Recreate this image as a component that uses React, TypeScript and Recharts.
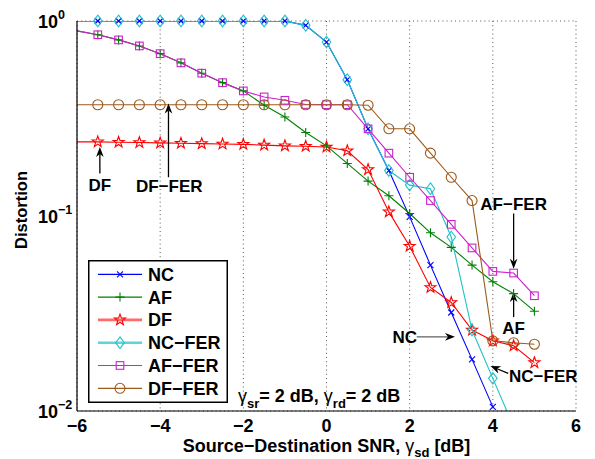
import React from "react";
import {
  LineChart,
  Line,
  XAxis,
  YAxis,
  CartesianGrid,
  ReferenceLine,
  ReferenceDot,
  Legend,
  Label,
} from "recharts";

// source-destination SNR (dB)
const snr = [-6, -5.5, -5, -4.5, -4, -3.5, -3, -2.5, -2, -1.5, -1, -0.5, 0, 0.5, 1, 1.5, 2, 2.5, 3, 3.5, 4, 4.5, 5];

// distortion per scheme
const nc = [1, 1, 1, 1, 1, 1, 1, 1, 1, 1, 1, 0.95, 0.78, 0.5, 0.28, 0.171, 0.099, 0.056, 0.032, 0.0184, 0.0105, null, null];
const af = [0.89, 0.85, 0.8, 0.745, 0.68, 0.61, 0.54, 0.483, 0.438, 0.37, 0.322, 0.268, 0.229, 0.186, 0.151, 0.127, 0.103, 0.082, 0.069, 0.056, 0.046, 0.04, 0.0325];
const df = [0.24, 0.24, 0.239, 0.238, 0.237, 0.236, 0.235, 0.234, 0.233, 0.231, 0.229, 0.228, 0.226, 0.216, 0.173, 0.105, 0.07, 0.043, 0.036, 0.026, 0.0229, 0.0216, 0.0177];
const ncFer = [1, 1, 1, 1, 1, 1, 1, 1, 1, 1, 1, 0.95, 0.78, 0.5, 0.28, 0.171, 0.144, 0.138, 0.078, 0.026, 0.0147, 0.0083, null];
const afFer = [0.89, 0.85, 0.8, 0.745, 0.68, 0.61, 0.54, 0.483, 0.438, 0.408, 0.392, 0.373, 0.372, 0.372, 0.28, 0.21, 0.158, 0.12, 0.0906, 0.0686, 0.052, 0.051, 0.039];
const dfFer = [0.372, 0.372, 0.372, 0.372, 0.372, 0.372, 0.372, 0.372, 0.372, 0.372, 0.372, 0.372, 0.372, 0.372, 0.37, 0.28, 0.28, 0.21, 0.158, 0.12, 0.0229, 0.0224, 0.022];

const xTicks = [-6, -4, -2, 0, 2, 4, 6];
const yMajor = [0.01, 0.1, 1];
const yMinor = [0.02, 0.03, 0.04, 0.05, 0.06, 0.07, 0.08, 0.09, 0.2, 0.3, 0.4, 0.5, 0.6, 0.7, 0.8, 0.9];
const yAll = [...yMajor, ...yMinor].sort((a, b) => a - b);

// arrow annotations [x, y] in data units
const arrows = [
  { from: [-5.45, 0.165], to: [-5.45, 0.226], color: "#000" },
  { from: [-3.8, 0.158], to: [-3.8, 0.377], color: "#000" },
  { from: [4.5, 0.103], to: [4.5, 0.0537], color: "#000" },
  { from: [4.5, 0.0303], to: [4.5, 0.0408], color: "#000" },
  { from: [2.17, 0.024], to: [3.09, 0.024], color: "#666" },
  { from: [4.37, 0.0156], to: [3.945, 0.017], color: "#000" },
];
const notes = [
  { text: "DF", x: -5.45, y: 0.134, anchor: "middle" },
  { text: "DF\u2212FER", x: -3.78, y: 0.1328, anchor: "middle" },
  { text: "AF\u2212FER", x: 4.5, y: 0.107, anchor: "middle" },
  { text: "AF", x: 4.5, y: 0.0249, anchor: "middle" },
  { text: "NC", x: 2.18, y: 0.0222, anchor: "end" },
  { text: "NC\u2212FER", x: 4.39, y: 0.0141, anchor: "start" },
];

const series = [
  { key: "nc", name: "NC", color: "#0000ff", marker: "x", values: nc },
  { key: "af", name: "AF", color: "#008000", marker: "plus", values: af },
  { key: "df", name: "DF", color: "#ff0000", marker: "star", values: df },
  { key: "ncFer", name: "NC\u2212FER", color: "#1cc3c8", marker: "diamond", values: ncFer },
  { key: "afFer", name: "AF\u2212FER", color: "#cc22cc", marker: "square", values: afFer },
  { key: "dfFer", name: "DF\u2212FER", color: "#9c5a1c", marker: "circle", values: dfFer },
];

const rows = snr.map((x, i) => {
  const r: any = { x };
  series.forEach((s) => (r[s.key] = s.values[i]));
  return r;
});

const FONT = "'Liberation Sans', Arial, Helvetica, sans-serif";

function Marker({ kind, cx, cy, color }: any) {
  const sw = 1.1;
  if (kind === "x")
    return <path d={`M${cx - 3},${cy - 3}L${cx + 3},${cy + 3}M${cx - 3},${cy + 3}L${cx + 3},${cy - 3}`} stroke={color} strokeWidth={sw} fill="none" />;
  if (kind === "plus")
    return <path d={`M${cx - 4.5},${cy}L${cx + 4.5},${cy}M${cx},${cy - 4.5}L${cx},${cy + 4.5}`} stroke={color} strokeWidth={sw} fill="none" />;
  if (kind === "star") {
    const pts: string[] = [];
    for (let k = 0; k < 10; k++) {
      const r = k % 2 === 0 ? 5.8 : 2.3;
      const a = -Math.PI / 2 + (k * Math.PI) / 5;
      pts.push(`${cx + r * Math.cos(a)},${cy + r * Math.sin(a)}`);
    }
    return <polygon points={pts.join(" ")} stroke={color} strokeWidth={sw} fill="none" />;
  }
  if (kind === "diamond")
    return <polygon points={`${cx},${cy - 5.8} ${cx + 4.3},${cy} ${cx},${cy + 5.8} ${cx - 4.3},${cy}`} stroke={color} strokeWidth={sw} fill="none" />;
  if (kind === "square")
    return <rect x={cx - 3.8} y={cy - 3.8} width={7.6} height={7.6} stroke={color} strokeWidth={sw} fill="none" />;
  return <circle cx={cx} cy={cy} r={5} stroke={color} strokeWidth={sw} fill="none" />;
}

const dotFor = (kind: string, color: string) => (p: any) => {
  const { cx, cy, index, value } = p;
  if (index === 0 || value == null || cx == null || cy == null || !isFinite(cx) || !isFinite(cy))
    return <g key={`d${index}`} />;
  return (
    <g key={`d${index}`}>
      <Marker kind={kind} cx={cx} cy={cy} color={color} />
    </g>
  );
};

const arrowShape = (color: string) => (p: any) => {
  const { x1, y1, x2, y2 } = p;
  const ang = Math.atan2(y2 - y1, x2 - x1);
  const L = 10;
  const W = 3.8;
  const bx = x2 - L * Math.cos(ang);
  const by = y2 - L * Math.sin(ang);
  const px = -Math.sin(ang) * W;
  const py = Math.cos(ang) * W;
  const nx = x2 - 0.7 * L * Math.cos(ang);
  const ny = y2 - 0.7 * L * Math.sin(ang);
  return (
    <g>
      <line x1={x1} y1={y1} x2={nx} y2={ny} stroke={color} strokeWidth={1.3} />
      <polygon points={`${x2},${y2} ${bx + px},${by + py} ${nx},${ny} ${bx - px},${by - py}`} fill="#000" />
    </g>
  );
};

const XTick = ({ x, y, payload }: any) => {
  const v = payload.value;
  const label = v < 0 ? `\u2212${Math.abs(v)}` : `${v}`;
  return (
    <text x={x} y={y + 21} textAnchor="middle" fontFamily={FONT} fontWeight="bold" fontSize={18} fill="#000">
      {label}
    </text>
  );
};

const YTick = ({ x, y, payload }: any) => {
  const e = Math.round(Math.log10(payload.value));
  const exp = e < 0 ? `\u2212${Math.abs(e)}` : `${e}`;
  return (
    <text x={x - 39} y={y + 7} textAnchor="start" fontFamily={FONT} fontWeight="bold" fontSize={18} fill="#000">
      10
      <tspan dy={-9} fontSize={12.5}>{exp}</tspan>
    </text>
  );
};

const renderLegend = () => (
  <svg width={140} height={143} style={{ display: "block" }}>
    <rect x={0.75} y={0.75} width={138.5} height={141.5} fill="#fff" stroke="#000" strokeWidth={1.5} />
    {series.map((s, i) => {
      const cy = 14.3 + i * 22.8;
      const thick = s.key === "df" || s.key === "ncFer";
      return (
        <g key={s.key}>
          <line x1={10} x2={54} y1={cy} y2={cy} stroke={thick ? (s.key === "df" ? "#ff6a6a" : "#5fd6d6") : s.color} strokeWidth={thick ? 2.6 : 1.2} />
          <Marker kind={s.marker} cx={32} cy={cy} color={s.color} />
          <text x={60} y={cy + 6.5} fontFamily={FONT} fontWeight="bold" fontSize={18} fill="#000">
            {s.name}
          </text>
        </g>
      );
    })}
  </svg>
);

export default function App() {
  return (
    <div style={{ position: "absolute", left: 0, top: 0, background: "#fff" }}>
      <LineChart width={595} height={459} data={rows} margin={{ top: 21, right: 19, bottom: 0, left: 0 }}>
        <CartesianGrid xAxisId="x" yAxisId="yminor" stroke="#555" strokeDasharray="1 3.2" strokeWidth={1} />

        <XAxis
          xAxisId="x"
          dataKey="x"
          type="number"
          domain={[-6, 6]}
          ticks={xTicks}
          interval={0}
          height={48}
          tickSize={0}
          tickMargin={0}
          tickLine={false}
          axisLine={{ stroke: "#000", strokeWidth: 1.2 }}
          tick={<XTick />}
        >
          <Label
            content={({ viewBox }: any) => (
              <text x={viewBox.x + viewBox.width / 2} y={viewBox.y + 41} textAnchor="middle" fontFamily={FONT} fontWeight="bold" fontSize={18} fill="#000">
                Source{"\u2212"}Destination SNR, <tspan fontWeight="normal">γ</tspan>
                <tspan dy={5} fontSize={13}>sd</tspan>
                <tspan dy={-5}> [dB]</tspan>
              </text>
            )}
          />
        </XAxis>
        <XAxis xAxisId="xin" dataKey="x" type="number" domain={[-6, 6]} ticks={xTicks} interval={0} orientation="bottom" mirror height={0} tick={false} tickSize={5} axisLine={false} tickLine={{ stroke: "#000" }} />
        <XAxis xAxisId="xtop" dataKey="x" type="number" domain={[-6, 6]} ticks={xTicks} interval={0} orientation="top" mirror height={0} tick={false} tickSize={5} axisLine={{ stroke: "#000", strokeWidth: 1.2 }} tickLine={{ stroke: "#000" }} />

        <YAxis
          yAxisId="y"
          scale="log"
          type="number"
          domain={[0.01, 1]}
          allowDataOverflow
          ticks={yMajor}
          interval={0}
          width={77}
          tickSize={0}
          tickMargin={0}
          tickLine={false}
          axisLine={{ stroke: "#000", strokeWidth: 1.2 }}
          tick={<YTick />}
        >
          <Label
            content={({ viewBox }: any) => {
              const cx = viewBox.x + 27;
              const cy = viewBox.y + viewBox.height / 2 - 6;
              return (
                <text x={cx} y={cy} transform={`rotate(-90 ${cx} ${cy})`} textAnchor="middle" fontFamily={FONT} fontWeight="bold" fontSize={16.5} fill="#000">
                  Distortion
                </text>
              );
            }}
          />
        </YAxis>
        <YAxis yAxisId="yd" scale="log" type="number" domain={[0.01, 1]} hide width={0} />
        <YAxis yAxisId="yin" scale="log" type="number" domain={[0.01, 1]} allowDataOverflow ticks={yMajor} interval={0} mirror width={0} tick={false} tickSize={5} axisLine={false} tickLine={{ stroke: "#000" }} />
        <YAxis yAxisId="yminor" scale="log" type="number" domain={[0.01, 1]} allowDataOverflow ticks={yAll} interval={0} mirror width={0} tick={false} tickSize={3} axisLine={false} tickLine={{ stroke: "#000" }} />
        <YAxis yAxisId="yright" orientation="right" scale="log" type="number" domain={[0.01, 1]} allowDataOverflow ticks={yMajor} interval={0} mirror width={0} tick={false} tickSize={5} axisLine={{ stroke: "#000", strokeWidth: 1.2 }} tickLine={{ stroke: "#000" }} />
        <YAxis yAxisId="yrightminor" orientation="right" scale="log" type="number" domain={[0.01, 1]} allowDataOverflow ticks={yAll} interval={0} mirror width={0} tick={false} tickSize={3} axisLine={false} tickLine={{ stroke: "#000" }} />

        {series.map((s) => (
          <Line
            key={s.key}
            xAxisId="x"
            yAxisId="y"
            dataKey={s.key}
            type="linear"
            stroke={s.color}
            strokeWidth={1.1}
            dot={false}
            activeDot={false}
            isAnimationActive={false}
            legendType="none"
          />
        ))}
        {series.map((s) => (
          <Line
            key={`${s.key}-m`}
            xAxisId="x"
            yAxisId="yd"
            dataKey={(d: any) => (d[s.key] != null && d[s.key] >= 0.01 ? d[s.key] : null)}
            type="linear"
            stroke="none"
            dot={dotFor(s.marker, s.color)}
            activeDot={false}
            isAnimationActive={false}
            legendType="none"
          />
        ))}

        {arrows.map((a, i) => (
          <ReferenceLine
            key={`a${i}`}
            xAxisId="x"
            yAxisId="y"
            segment={[
              { x: a.from[0], y: a.from[1] },
              { x: a.to[0], y: a.to[1] },
            ]}
            shape={arrowShape(a.color)}
          />
        ))}
        {notes.map((n, i) => (
          <ReferenceDot
            key={`n${i}`}
            xAxisId="x"
            yAxisId="y"
            x={n.x}
            y={n.y}
            r={0}
            shape={(p: any) => (
              <text x={p.cx} y={p.cy} textAnchor={n.anchor as any} fontFamily={FONT} fontWeight="bold" fontSize={17} fill="#000">
                {n.text}
              </text>
            )}
          />
        ))}
        <ReferenceDot
          xAxisId="x"
          yAxisId="y"
          x={-2.128}
          y={0.0111}
          r={0}
          shape={(p: any) => (
            <text x={p.cx} y={p.cy} fontFamily={FONT} fontWeight="bold" fontSize={18} fill="#000">
              <tspan fontWeight="normal">γ</tspan>
              <tspan dy={6} fontSize={13}>sr</tspan>
              <tspan dy={-6}>= 2 dB, </tspan>
              <tspan fontWeight="normal">γ</tspan>
              <tspan dy={6} fontSize={13}>rd</tspan>
              <tspan dy={-6}>= 2 dB</tspan>
            </text>
          )}
        />

        <Legend
          layout="horizontal"
          align="center"
          verticalAlign="middle"
          content={renderLegend}
          wrapperStyle={{ left: 88, top: 260, width: 140, height: 143 }}
        />
      </LineChart>
    </div>
  );
}
